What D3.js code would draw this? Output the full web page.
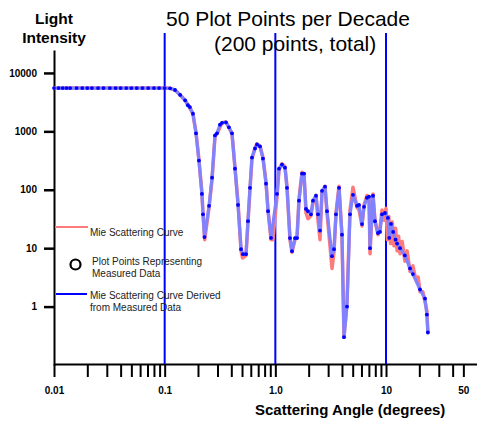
<!DOCTYPE html>
<html>
<head>
<meta charset="utf-8">
<script src="https://cdn.jsdelivr.net/npm/d3@7"></script>
<style>
  html, body { margin: 0; padding: 0; background: #fff; }
  svg { display: block; font-family: "Liberation Sans", Arial, Helvetica, sans-serif; }
  .tick text { font-weight: bold; font-size: 10px; fill: #000; }
  .legend text { font-size: 10px; fill: #222; }
</style>
</head>
<body>
<svg id="chart" width="477" height="424"></svg>
<script>
// Mie scattering: measured points, derived curve and the theoretical curve,
// log-log.

// [angle in degrees, light intensity]
const measuredPoints = [
  [0.010, 5500], [0.011, 5500], [0.012, 5500], [0.013, 5500], [0.014, 5500],
  [0.016, 5500], [0.018, 5500], [0.020, 5500], [0.022, 5500], [0.025, 5500],
  [0.028, 5500], [0.032, 5500], [0.036, 5500], [0.040, 5500], [0.045, 5500],
  [0.050, 5500], [0.056, 5500], [0.063, 5500], [0.071, 5500], [0.080, 5500],
  [0.089, 5500], [0.100, 5500], [0.112, 5450], [0.124, 5100], [0.138, 4200],
  [0.153, 3400], [0.162, 2800], [0.169, 2600], [0.180, 2000], [0.192, 925],
  [0.204, 316], [0.217, 85], [0.222, 38], [0.229, 15.5], [0.252, 53],
  [0.268, 161], [0.285, 853], [0.297, 925], [0.316, 1300], [0.330, 1400],
  [0.358, 1430], [0.381, 1170], [0.406, 925], [0.432, 230], [0.460, 55],
  [0.490, 9.6], [0.510, 7.9], [0.543, 7.9], [0.566, 29], [0.590, 108],
  [0.615, 356], [0.655, 509], [0.683, 597], [0.727, 551], [0.773, 342],
  [0.824, 127], [0.859, 43], [0.914, 15], [1.035, 85], [1.079, 230],
  [1.148, 270], [1.222, 239], [1.274, 108], [1.356, 14.9], [1.414, 8.9],
  [1.506, 14.9], [1.570, 14.9], [1.636, 65], [1.742, 189], [1.816, 189],
  [1.892, 47], [1.972, 43], [2.099, 38], [2.188, 65], [2.330, 79],
  [2.429, 38], [2.533, 20], [2.641, 96], [2.811, 113], [2.931, 43],
  [3.251, 7.3], [3.389, 9.6], [3.533, 38], [3.760, 108], [4.002, 17],
  [4.172, 0.30], [4.440, 1.0], [4.726, 38], [5.030, 82], [5.47, 53],
  [5.70, 55], [6.07, 25.9], [6.33, 51], [6.73, 73], [7.02, 76],
  [7.17, 10], [7.63, 79], [7.95, 29], [8.46, 18.2], [8.82, 19],
  [9.20, 38], [9.79, 40], [10.4, 33], [10.7, 15], [11.1, 26],
  [11.6, 19], [12.2, 14], [12.6, 12], [13.4, 10], [14.8, 7.5],
  [16.5, 4.5], [17.5, 3.6], [20.3, 1.96], [22.5, 1.37], [23.4, 0.73],
  [23.9, 0.36]
];

const mieCurve = [
  [0.010, 5500], [0.100, 5500], [0.112, 5450], [0.124, 5100], [0.138, 4200],
  [0.153, 3400], [0.165, 2700], [0.180, 2000], [0.192, 950], [0.204, 330],
  [0.217, 90], [0.222, 40], [0.230, 14], [0.252, 50], [0.268, 150],
  [0.285, 820], [0.300, 950], [0.330, 1400], [0.358, 1450], [0.381, 1150],
  [0.406, 900], [0.432, 240], [0.460, 60], [0.490, 9], [0.505, 6.8],
  [0.543, 7.5], [0.566, 28], [0.590, 100], [0.615, 340], [0.655, 520],
  [0.683, 610], [0.727, 560], [0.773, 360], [0.824, 135], [0.859, 45],
  [0.914, 14], [0.950, 14], [1.035, 75], [1.079, 220], [1.148, 280],
  [1.222, 250], [1.274, 115], [1.356, 14], [1.414, 8.5], [1.506, 14],
  [1.570, 16], [1.636, 70], [1.742, 200], [1.816, 185], [1.892, 40],
  [1.972, 32], [2.099, 36], [2.188, 60], [2.330, 80], [2.429, 30],
  [2.533, 14], [2.641, 90], [2.811, 115], [2.931, 40], [3.251, 4.5],
  [3.389, 8.5], [3.533, 40], [3.760, 115], [4.002, 16], [4.172, 0.30],
  [4.440, 1.2], [4.726, 45], [5.030, 110], [5.47, 50], [5.70, 45],
  [6.07, 24], [6.33, 55], [6.73, 80], [7.02, 75], [7.17, 8],
  [7.63, 85], [7.95, 30], [8.46, 17], [8.82, 22], [9.20, 45],
  [9.6, 30], [10.0, 48], [10.3, 14], [10.6, 35], [11.0, 12],
  [11.4, 28], [11.8, 11], [12.2, 22], [12.6, 9], [13.0, 16],
  [13.4, 8], [14.0, 13], [14.8, 6], [15.5, 9], [16.5, 4],
  [17.5, 5], [18.5, 3], [19.5, 3.2], [20.3, 1.8], [21.5, 1.8],
  [22.5, 1.2], [23.4, 0.85], [23.9, 0.36]
];

const decadeMarks = [0.1, 1, 10];
const xTickValues = [0.01, 0.02, 0.03, 0.04, 0.05, 0.06, 0.07, 0.08, 0.09,
  0.1, 0.2, 0.3, 0.4, 0.5, 0.6, 0.7, 0.8, 0.9,
  1, 2, 3, 4, 5, 6, 7, 8, 9,
  10, 20, 30, 40, 50];
const xTickLabels = { 0.01: '0.01', 0.1: '0.1', 1: '1.0', 10: '10', 50: '50' };
const yTickValues = [1, 10, 100, 1000, 10000];

const legendItems = [
  { kind: 'pink', lines: ['Mie Scattering Curve'] },
  { kind: 'point', lines: ['Plot Points Representing', 'Measured Data'] },
  { kind: 'blue', lines: ['Mie Scattering Curve Derived', 'from Measured Data'] },
];

const svg = d3.select('#chart');

const x = d3.scaleLog().domain([0.01, 66.4]).range([54, 477]);
const y = d3.scaleLog().domain([0.1, 24700]).range([365, 50]);

// ---- axes ----
const gx = svg.append('g')
  .attr('transform', 'translate(0,364)')
  .call(d3.axisBottom(x)
    .tickValues(xTickValues)
    .tickSizeInner(13).tickSizeOuter(0).tickPadding(10)
    .tickFormat((d) => xTickLabels[d] || ''));
gx.select('.domain').attr('stroke-width', 2);
gx.selectAll('.tick line').attr('stroke-width', 2);

const gy = svg.append('g')
  .attr('transform', 'translate(54,0)')
  .call(d3.axisLeft(y)
    .tickValues(yTickValues)
    .tickSizeInner(10).tickSizeOuter(0).tickPadding(7)
    .tickFormat(d3.format('d')));
gy.select('.domain').attr('stroke-width', 2);
gy.selectAll('.tick line').attr('stroke-width', 2.5);

// decade markers
svg.append('g').selectAll('line').data(decadeMarks).join('line')
  .attr('x1', (d) => x(d)).attr('x2', (d) => x(d))
  .attr('y1', 33).attr('y2', 364)
  .attr('stroke', '#0000ff').attr('stroke-width', 2);

// ---- curves ----
const line = d3.line().x((d) => x(d[0])).y((d) => y(d[1]));

svg.append('path').datum(mieCurve)
  .attr('d', line)
  .attr('fill', 'none')
  .attr('stroke', '#ff7a7a')
  .attr('stroke-width', 3.5)
  .attr('stroke-linejoin', 'round');

svg.append('path').datum(measuredPoints)
  .attr('d', line)
  .attr('fill', 'none')
  .attr('stroke', '#8282ff')
  .attr('stroke-width', 3.2)
  .attr('stroke-linejoin', 'round');

svg.append('g').selectAll('circle').data(measuredPoints).join('circle')
  .attr('cx', (d) => x(d[0]))
  .attr('cy', (d) => y(d[1]))
  .attr('r', 1.9)
  .attr('fill', '#0000ff');

// ---- legend ----
const legend = svg.append('g').attr('class', 'legend');
const legendY = [227, 264.5, 294];
legendItems.forEach((item, i) => {
  const ly = legendY[i];
  if (item.kind === 'pink') {
    legend.append('line').attr('x1', 55).attr('x2', 88).attr('y1', ly).attr('y2', ly)
      .attr('stroke', '#ff7a7a').attr('stroke-width', 2);
  } else if (item.kind === 'blue') {
    legend.append('line').attr('x1', 56).attr('x2', 87).attr('y1', ly).attr('y2', ly)
      .attr('stroke', '#0000ff').attr('stroke-width', 2);
  } else {
    legend.append('circle').attr('cx', 75.5).attr('cy', ly).attr('r', 5)
      .attr('fill', 'none').attr('stroke', '#000').attr('stroke-width', 2.2);
  }
  const tx = item.kind === 'point' ? 92 : 90;
  const t0 = item.kind === 'pink' ? ly + 8.5 : (item.kind === 'point' ? ly + 0.5 : ly + 5.3);
  item.lines.forEach((s, j) => {
    legend.append('text').attr('x', tx).attr('y', t0 + j * 11.7).text(s);
  });
});

// ---- titles ----
svg.append('text').attr('x', 54).attr('y', 24)
  .attr('text-anchor', 'middle').attr('font-weight', 'bold').attr('font-size', 15.5)
  .text('Light');
svg.append('text').attr('x', 54).attr('y', 43)
  .attr('text-anchor', 'middle').attr('font-weight', 'bold').attr('font-size', 15.5)
  .text('Intensity');

svg.append('text').attr('x', 166).attr('y', 26)
  .attr('font-size', 21).text('50 Plot Points per Decade');
svg.append('text').attr('x', 214).attr('y', 51)
  .attr('font-size', 21).text('(200 points, total)');

svg.append('text').attr('x', 255).attr('y', 415)
  .attr('font-weight', 'bold').attr('font-size', 15)
  .text('Scattering Angle (degrees)');
</script>
</body>
</html>
